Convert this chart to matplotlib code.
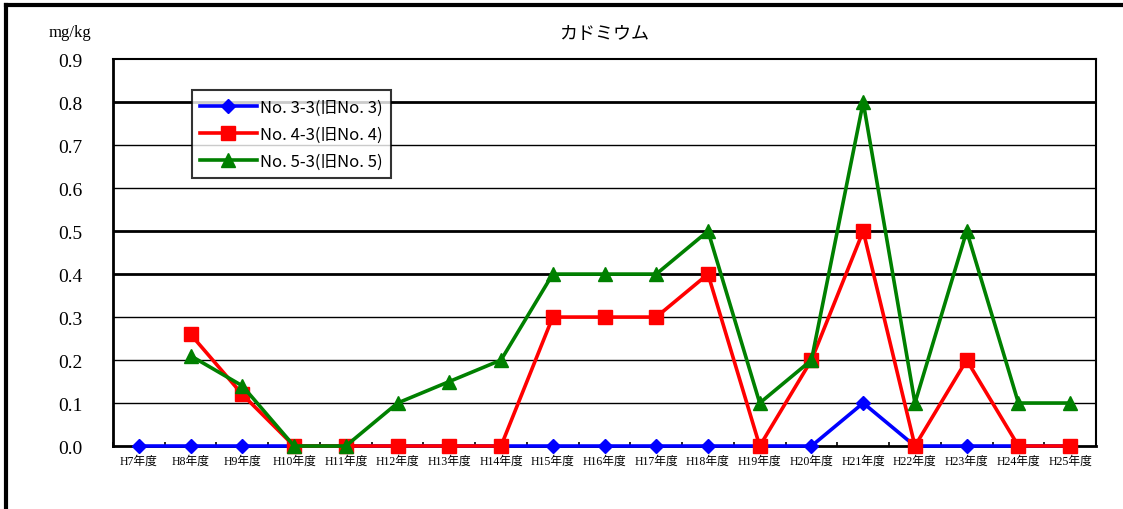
import numpy as np
import matplotlib.pyplot as plt
from matplotlib.lines import Line2D

plt.rcParams['font.family'] = ['Liberation Serif', 'Noto Sans CJK JP', 'DejaVu Sans']

years = ['H7年度', 'H8年度', 'H9年度', 'H10年度', 'H11年度', 'H12年度', 'H13年度',
         'H14年度', 'H15年度', 'H16年度', 'H17年度', 'H18年度', 'H19年度', 'H20年度',
         'H21年度', 'H22年度', 'H23年度', 'H24年度', 'H25年度']
no3 = [0, 0, 0, 0, 0, 0, 0, 0, 0, 0, 0, 0, 0, 0, 0.1, 0, 0, 0, 0]
no4 = [np.nan, 0.26, 0.12, 0, 0, 0, 0, 0, 0.3, 0.3, 0.3, 0.4, 0, 0.2, 0.5, 0, 0.2, 0, 0]
no5 = [np.nan, 0.21, 0.14, 0, 0, 0.1, 0.15, 0.2, 0.4, 0.4, 0.4, 0.5, 0.1, 0.2, 0.8, 0.1, 0.5, 0.1, 0.1]
labels = ['No. 3-3(旧No. 3)', 'No. 4-3(旧No. 4)', 'No. 5-3(旧No. 5)']
yticks = [0.0, 0.1, 0.2, 0.3, 0.4, 0.5, 0.6, 0.7, 0.8, 0.9]

fig = plt.figure(figsize=(11.23, 5.10), dpi=100)
ax = fig.add_axes([0.1006, 0.1235, 0.8754, 0.7585])

x = np.arange(len(years))
ax.plot(x, no3, color='#0000ff', lw=2.6, marker='D', ms=7.5, label=labels[0], zorder=3, clip_on=False)
ax.plot(x, no4, color='#ff0000', lw=2.6, marker='s', ms=10, label=labels[1], zorder=4, clip_on=False)
ax.plot(x, no5, color='#008000', lw=2.6, marker='^', ms=10, label=labels[2], zorder=5, clip_on=False)

ax.set_xlim(-0.5, len(years) - 0.5)
ax.set_ylim(0, 0.9)
ax.set_yticks(yticks)
ax.set_yticklabels(['%.1f' % v for v in yticks], fontsize=14)
ax.tick_params(axis='y', length=0, pad=22)
ax.set_xticks(x)
ax.set_xticklabels(years, fontsize=8.5)
ax.set_xticks(np.arange(len(years) + 1) - 0.5, minor=True)
ax.tick_params(axis='x', which='major', length=0, pad=6)
ax.tick_params(axis='x', which='minor', direction='in', length=3, width=1.2)

for v in yticks[1:-1]:
    w = 2.0 if v in (0.4, 0.5, 0.8) else 1.0
    ax.axhline(v, color='black', lw=w, zorder=1)

for s in ax.spines.values():
    s.set_linewidth(1.5)
ax.spines['left'].set_linewidth(2)
ax.spines['bottom'].set_linewidth(2)

ax.set_title('カドミウム', fontsize=13, pad=15, family=['Noto Sans CJK JP', 'DejaVu Sans'])
fig.text(0.062, 0.935, 'mg/kg', fontsize=12, ha='center', va='center')

leg = ax.legend(loc='upper left', bbox_to_anchor=(0.08, 0.92), frameon=True,
                fancybox=False, edgecolor='black', handlelength=3.4, borderpad=0.5,
                labelspacing=0.6, handletextpad=0.2, borderaxespad=0,
                prop={'family': ['Noto Sans CJK JP', 'DejaVu Sans'], 'size': 12})
leg.get_frame().set_linewidth(1.5)
leg.set_zorder(10)

# outer frame (left and top edges)
fig.add_artist(Line2D([0.005, 0.005], [0, 0.988], color='black', lw=3, transform=fig.transFigure))
fig.add_artist(Line2D([0.005, 1.0], [0.988, 0.988], color='black', lw=3, transform=fig.transFigure))

fig.savefig('out.png', dpi=100)
